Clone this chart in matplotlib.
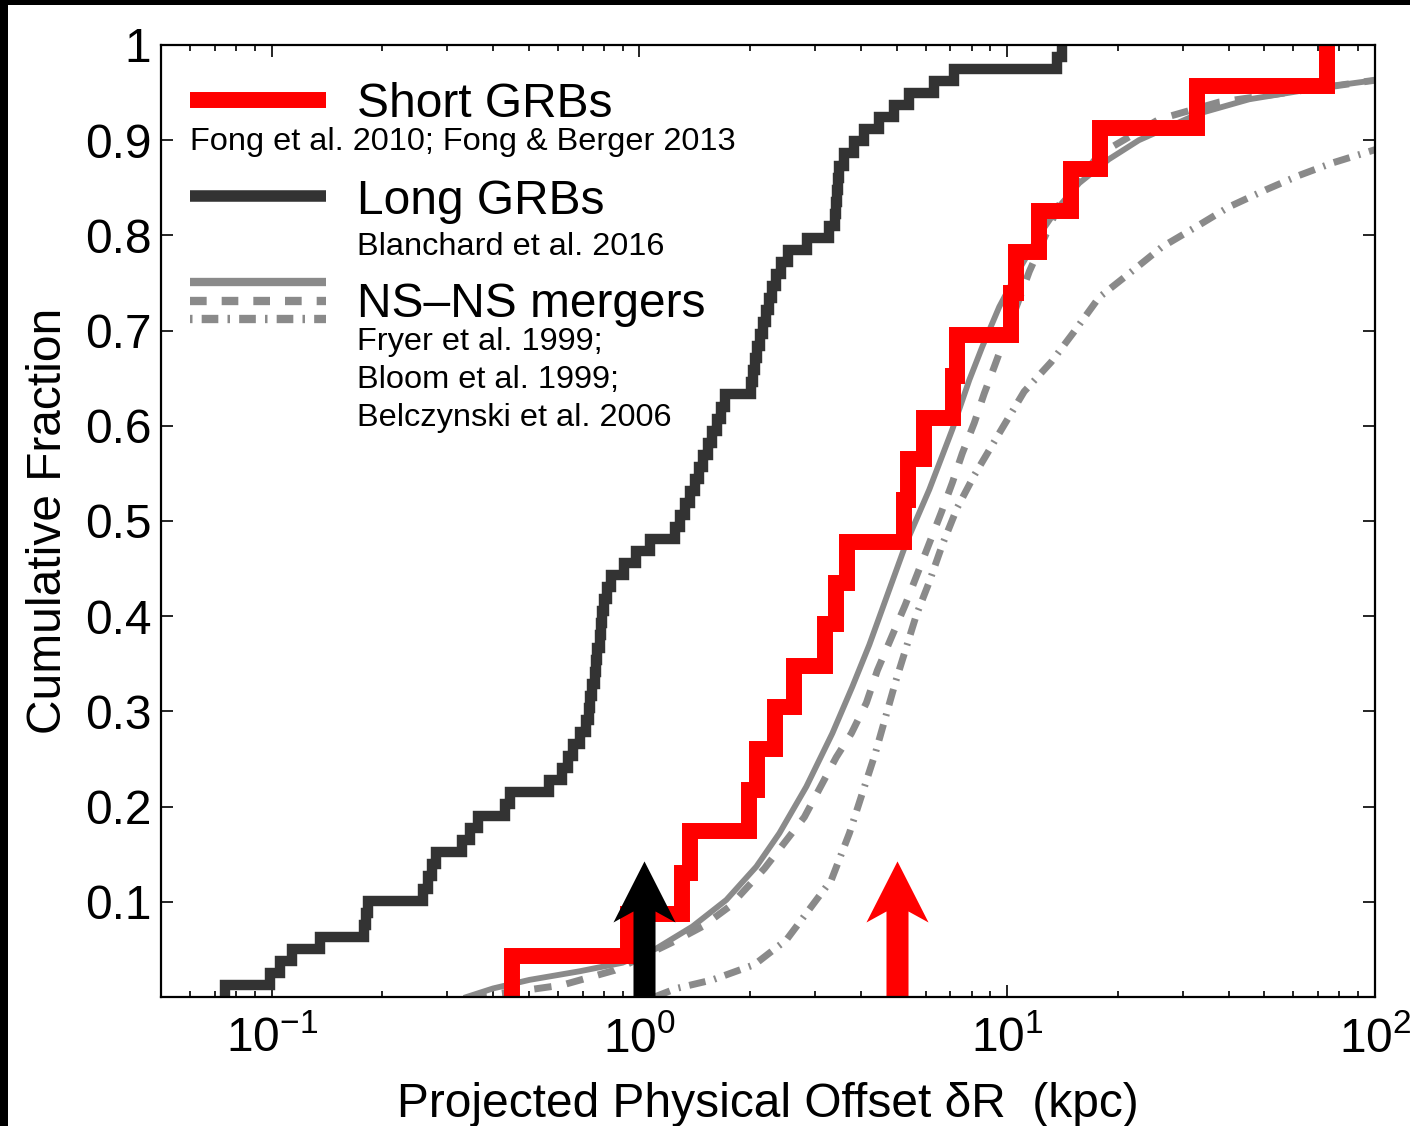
import numpy as np
import matplotlib
matplotlib.use("Agg")
import matplotlib.pyplot as plt
from matplotlib.path import Path
from matplotlib.patches import Rectangle

plt.rcParams['font.family'] = ['Liberation Sans', 'DejaVu Sans']
plt.rcParams['mathtext.fontset'] = 'custom'
plt.rcParams['mathtext.rm'] = 'Liberation Sans'
plt.rcParams['mathtext.it'] = 'Liberation Sans:italic'
plt.rcParams['mathtext.bf'] = 'Liberation Sans:bold'

# ---------------- data ----------------
# Long GRB projected offsets (kpc), Blanchard et al. 2016
long_offsets = [0.0745, 0.0988, 0.1051, 0.1133, 0.1350, 0.1778, 0.1800, 0.1823, 0.2572, 0.2654,
                0.2721, 0.2790, 0.3284, 0.3452, 0.3629, 0.4297, 0.4433, 0.5693, 0.6138, 0.6373,
                0.6615, 0.6871, 0.7133, 0.7268, 0.7359, 0.7452, 0.7546, 0.7640, 0.7689, 0.7786,
                0.7884, 0.7933, 0.8033, 0.8185, 0.8393, 0.9105, 0.9814, 1.065, 1.253, 1.292,
                1.334, 1.376, 1.420, 1.455, 1.492, 1.540, 1.579, 1.629, 1.671, 1.713,
                2.015, 2.041, 2.067, 2.093, 2.133, 2.173, 2.214, 2.256, 2.298, 2.357,
                2.432, 2.541, 2.861, 3.283, 3.409, 3.430, 3.451, 3.474, 3.495, 3.606,
                3.839, 4.088, 4.489, 4.931, 5.416, 6.333, 7.178, 13.68, 14.11]

# Short GRB projected offsets (kpc), Fong et al. 2010; Fong & Berger 2013
short_offsets = [0.449, 0.933, 1.309, 1.376, 1.99, 2.093, 2.342, 2.638, 3.202, 3.43,
                 3.674, 5.25, 5.38, 5.95, 7.13, 7.31, 10.25, 10.58, 12.22, 14.93,
                 17.89, 32.8, 74.1]

# NS-NS merger model cumulative distributions
fryer_x = [0.3388, 0.40, 0.5024, 0.6871, 0.8990, 1.112, 1.393, 1.723, 2.079, 2.401,
           2.843, 3.346, 3.792, 4.217, 4.779, 5.314, 6.138, 7.088, 7.884, 8.553,
           9.513, 10.8, 12.2, 13.8, 15.7, 18.9, 22.8, 33.2, 45.5, 70.4, 100.0]
fryer_y = [0.0, 0.009, 0.018, 0.027, 0.036, 0.051, 0.074, 0.102, 0.137, 0.172,
           0.221, 0.277, 0.326, 0.370, 0.428, 0.477, 0.533, 0.596, 0.648, 0.683,
           0.725, 0.765, 0.800, 0.830, 0.855, 0.880, 0.900, 0.928, 0.943, 0.955, 0.963]

bloom_x = [0.345, 0.4962, 0.6177, 0.8552, 1.268, 1.483, 1.757, 2.187, 2.478, 2.808,
           3.430, 3.769, 4.140, 4.434, 4.870, 5.282, 6.618, 7.088, 7.546, 8.135,
           8.660, 9.220, 11.48, 13.84, 17.78, 25.88, 37.67, 100.0]
bloom_y = [0.0, 0.0074, 0.0126, 0.028, 0.060, 0.074, 0.095, 0.135, 0.162, 0.189,
           0.252, 0.277, 0.309, 0.343, 0.380, 0.412, 0.509, 0.540, 0.571, 0.603,
           0.634, 0.662, 0.762, 0.832, 0.885, 0.922, 0.940, 0.963]

belcz_x = [1.098, 1.260, 1.579, 2.054, 2.509, 3.325, 3.722, 4.036, 4.378, 4.96,
           5.658, 6.138, 6.660, 7.313, 8.135, 9.813, 11.12, 13.17, 15.21, 17.78,
           21.46, 26.38, 32.63, 40.11, 50.56, 62.17, 76.42, 100.0]
belcz_y = [0.0, 0.009, 0.018, 0.034, 0.060, 0.123, 0.172, 0.214, 0.256, 0.330,
           0.401, 0.436, 0.475, 0.514, 0.548, 0.601, 0.636, 0.667, 0.699, 0.735,
           0.760, 0.788, 0.809, 0.830, 0.848, 0.863, 0.876, 0.890]

# arrows (offset in kpc, height in cumulative fraction)
arrow_x = [1.03, 5.0]
arrow_height = 0.143
arrow_colors = ['black', '#ff0000']

xticks = [0.1, 1, 10, 100]
xticklabels = [r'$\mathregular{10^{-1}}$', r'$\mathregular{10^{0}}$',
               r'$\mathregular{10^{1}}$', r'$\mathregular{10^{2}}$']
yticks = [0.1, 0.2, 0.3, 0.4, 0.5, 0.6, 0.7, 0.8, 0.9, 1.0]
yticklabels = ['0.1', '0.2', '0.3', '0.4', '0.5', '0.6', '0.7', '0.8', '0.9', '1']

# ---------------- figure ----------------
W, H, DPI = 1410, 1126, 100
fig = plt.figure(figsize=(W / DPI, H / DPI), dpi=DPI, facecolor='white')
ax_l, ax_b, ax_w, ax_h = 161 / W, 1 - 997 / H, 1214 / W, 952 / H
ax = fig.add_axes([ax_l, ax_b, ax_w, ax_h])

RED = '#ff0000'
DARK = '#333333'
GRAY = '#8a8a8a'
dashed = (0, (2.5, 2.2))
dashdot = (0, (2.4, 1.3, 0.3, 1.3))

ax.plot(fryer_x, fryer_y, color=GRAY, lw=4.2, zorder=2)
ax.plot(bloom_x, bloom_y, color=GRAY, lw=5.0, ls=dashed, zorder=2)
ax.plot(belcz_x, belcz_y, color=GRAY, lw=5.0, ls=dashdot, zorder=2)


def ecdf_step(ax, vals, **kw):
    v = np.sort(np.asarray(vals, dtype=float))
    n = len(v)
    xs = np.concatenate([[v[0]], v])
    ys = np.concatenate([[0.0], np.arange(1, n + 1) / n])
    ax.step(xs, ys, where='post', solid_joinstyle='miter', **kw)


ecdf_step(ax, long_offsets, color=DARK, lw=7.5, zorder=3)
ecdf_step(ax, short_offsets, color=RED, lw=11.5, zorder=4)

# arrows as custom markers (shape in pixels, bottom at 0)
shaft, barb, barb_y, join_y, tip = 11, 31, 75, 86, 136
verts = np.array([(-shaft, 0), (-shaft, join_y), (-barb, barb_y), (0, tip),
                  (barb, barb_y), (shaft, join_y), (shaft, 0), (-shaft, 0)], float)
verts[:, 1] -= tip / 2.0
arrow_path = Path(verts, closed=True)
arrow_ms = arrow_height * 952 * 72.0 / DPI
for xa, ca in zip(arrow_x, arrow_colors):
    ax.plot([xa], [arrow_height / 2.0], marker=arrow_path, markersize=arrow_ms,
            markerfacecolor=ca, markeredgewidth=0, linestyle='none', zorder=6)

ax.set_xscale('log')
ax.set_xlim(0.05, 100)
ax.set_ylim(0, 1)
ax.set_xticks(xticks)
ax.set_xticklabels(xticklabels)
ax.set_yticks(yticks)
ax.set_yticklabels(yticklabels)
ax.tick_params(which='both', direction='in', top=True, right=True, width=1.2, colors='black')
ax.tick_params(which='major', length=8.5, labelsize=34.5)
ax.tick_params(axis='x', which='major', pad=14)
ax.tick_params(axis='y', which='major', pad=7)
ax.tick_params(which='minor', length=4.5)
for s in ax.spines.values():
    s.set_linewidth(1.6)
    s.set_zorder(7)

ax.set_xlabel('Projected Physical Offset \u03b4R  (kpc)', fontsize=34.5)
ax.set_ylabel('Cumulative Fraction', fontsize=34.5)
ax.xaxis.set_label_coords(0.5, -0.089)
ax.yaxis.set_label_coords(-0.074, 0.5)

# ---------------- legend (manual) ----------------
T = ax.transAxes
lx0, lx1 = 0.0239, 0.1359
ax.plot([lx0, lx1], [0.9422, 0.9422], color=RED, lw=11.5, transform=T, solid_capstyle='butt', zorder=8)
ax.plot([lx0, lx1], [0.8414, 0.8414], color=DARK, lw=8.3, transform=T, solid_capstyle='butt', zorder=8)
ax.plot([lx0, lx1], [0.7511, 0.7511], color=GRAY, lw=6.0, transform=T, solid_capstyle='butt', zorder=8)
ax.plot([lx0, lx1], [0.7311, 0.7311], color=GRAY, lw=6.0, ls=(0, (2.0, 1.8)), transform=T, zorder=8)
ax.plot([lx0, lx1], [0.7122, 0.7122], color=GRAY, lw=6.0, ls=(0, (0.3, 1.1, 2.0, 1.1)), transform=T, zorder=8)

tx = 0.1614
big, small = 34.5, 23.4
ax.text(tx, 0.9244, 'Short GRBs', fontsize=big, transform=T, va='baseline', ha='left', zorder=8)
ax.text(0.0239, 0.8897, 'Fong et al. 2010; Fong & Berger 2013', fontsize=small, transform=T,
        va='baseline', ha='left', zorder=8)
ax.text(tx, 0.8225, 'Long GRBs', fontsize=big, transform=T, va='baseline', ha='left', zorder=8)
ax.text(tx, 0.7794, 'Blanchard et al. 2016', fontsize=small, transform=T, va='baseline', ha='left', zorder=8)
ax.text(tx, 0.7143, 'NS\u2013NS mergers', fontsize=big, transform=T, va='baseline', ha='left', zorder=8)
ax.text(tx, 0.6796, 'Fryer et al. 1999;', fontsize=small, transform=T, va='baseline', ha='left', zorder=8)
ax.text(tx, 0.6392, 'Bloom et al. 1999;', fontsize=small, transform=T, va='baseline', ha='left', zorder=8)
ax.text(tx, 0.5993, 'Belczynski et al. 2006', fontsize=small, transform=T, va='baseline', ha='left', zorder=8)

# black frame bands at top and left of the image
fig.patches.append(Rectangle((0, 1 - 5 / H), 1, 5 / H, transform=fig.transFigure,
                             facecolor='black', edgecolor='none', zorder=10))
fig.patches.append(Rectangle((0, 0), 8 / W, 1, transform=fig.transFigure,
                             facecolor='black', edgecolor='none', zorder=10))

fig.savefig('out.png', dpi=DPI, facecolor='white')
